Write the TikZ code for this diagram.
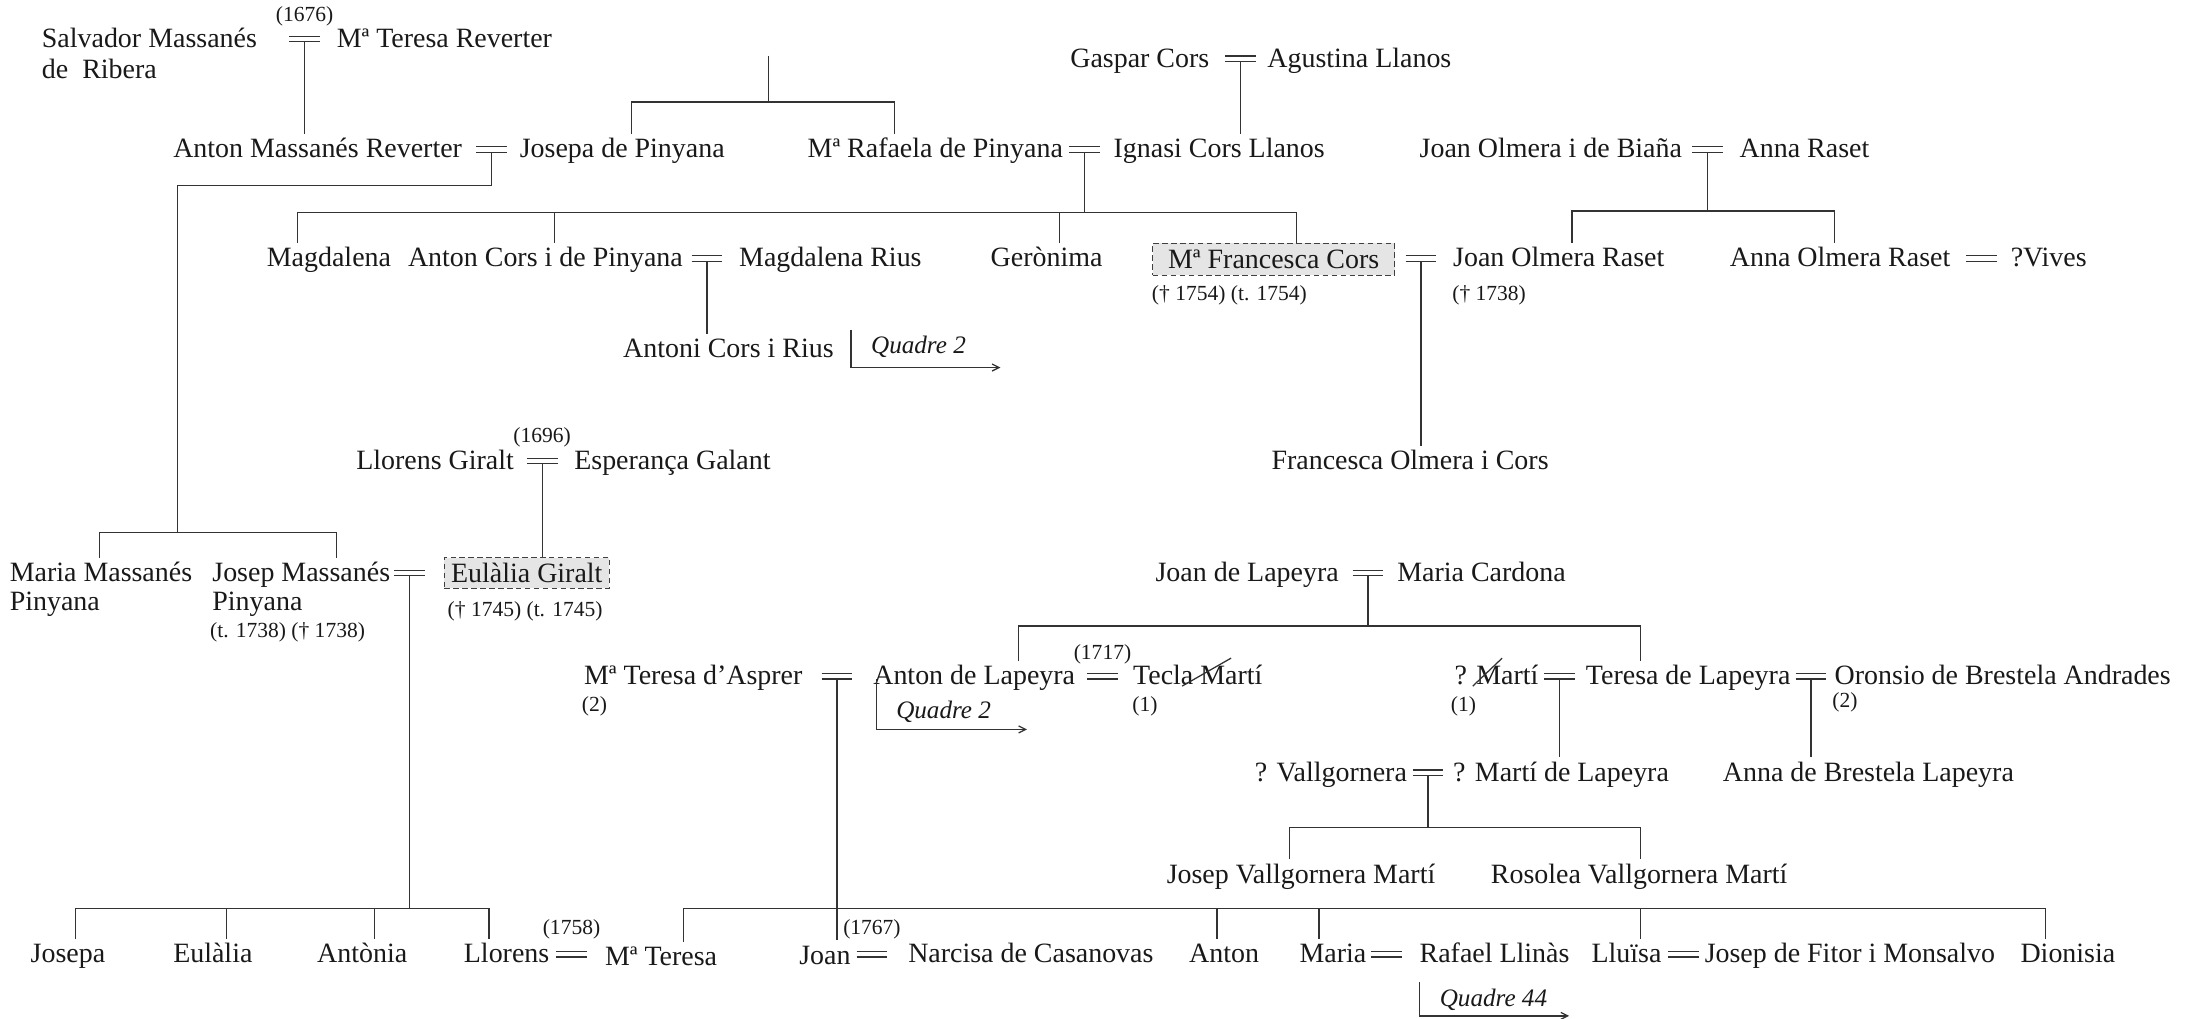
\documentclass[tikz,border=0pt]{standalone}
\usepackage{fontspec}
\setmainfont{Liberation Serif}
\usetikzlibrary{arrows.meta,calc}
\newcommand\mainsz{\fontsize{10}{12}\selectfont}
\newcommand\smallsz{\fontsize{7.7}{9}\selectfont}
\newcommand\quadsz{\fontsize{9}{11}\selectfont\itshape}
\tikzset{
 link/.style={draw=black!80, line width=0.45pt},
 pers/.style={anchor=base west, inner sep=0pt, outer xsep=0pt, outer ysep=1.5pt, text height=7pt, text depth=2pt, font=\mainsz, text=black!90},
 note/.style={anchor=base west, inner sep=0pt, font=\smallsz, text=black!90},
 datum/.style={inner sep=0pt, font=\smallsz, text=black!90},
 hl/.style={draw=black!75, dash pattern=on 2pt off 1.2pt, fill=black!10, inner sep=0pt, font=\mainsz, text=black!90, line width=0.4pt},
 marr/.style={inner sep=0pt, minimum width=11pt, minimum height=1.9pt, outer sep=0pt,
   append after command={(\tikzlastnode.north west) edge[link] (\tikzlastnode.north east)
                         (\tikzlastnode.south west) edge[link] (\tikzlastnode.south east)}},
 ref/.style={link, -{Straight Barb[length=2.5pt,width=2.5pt]}},
 quad/.style={anchor=base west, inner sep=0pt, font=\quadsz, text=black!90},
}
\begin{document}
\begin{tikzpicture}[x=0.5pt,y=-0.5pt]
\fill[white] (0,0) rectangle (1568,729);
\useasboundingbox (0,0) rectangle (1568,729);

% Row A
\node[pers] (salv) at (30,34) {Salvador Massanés};
\node[pers] (salvb) at (30,56) {de~~Ribera};
\node[marr] (m1) at (218,28) {};
\node[datum,yshift=8pt] (d1) at (m1) {(1676)};
\node[pers] (teresaR) at (241,34) {Mª Teresa Reverter};
\node[pers] (gaspar) at (766,48) {Gaspar Cors};
\node[marr] (m4) at (888,42) {};
\node[pers] (agustina) at (907,48) {Agustina Llanos};

% Row B
\node[pers] (antonM) at (124,113) {Anton Massanés Reverter};
\node[marr] (m2) at (352,107) {};
\node[pers] (josepaP) at (372,113) {Josepa de Pinyana};
\node[pers] (rafaela) at (578,113) {Mª Rafaela de Pinyana};
\node[marr] (m3) at (776,107) {};
\node[pers] (ignasi) at (797,113) {Ignasi Cors Llanos};
\node[pers] (joanOB) at (1016,113) {Joan Olmera i de Biaña};
\node[marr] (m5) at (1222,107) {};
\node[pers] (annaR) at (1245,113) {Anna Raset};

% Row C
\node[pers] (magd) at (191,191) {Magdalena};
\node[pers] (antonC) at (292,191) {Anton Cors i de Pinyana};
\node[marr] (m6) at (506,185) {};
\node[pers] (magdR) at (529,191) {Magdalena Rius};
\node[pers] (geron) at (709,191) {Gerònima};
\node[hl, minimum width=86.5pt, minimum height=11.5pt] (francC) at (911.5,185.5) {Mª Francesca Cors};
\node[marr] (m7) at (1017,185) {};
\node[pers] (joanOR) at (1040,191) {Joan Olmera Raset};
\node[pers] (annaOR) at (1238,191) {Anna Olmera Raset};
\node[marr] (m8) at (1418,185) {};
\node[pers] (vives) at (1439,191) {?Vives};
\node[note] (n1) at (824,215) {(† 1754) (t. 1754)};
\node[note] (n2) at (1039,215) {(† 1738)};

% Row D
\node[pers] (antoniCR) at (446,256) {Antoni Cors i Rius};
\coordinate (q1a) at (609,236);
\coordinate (q1b) at (716,263);
\draw[ref] (q1a) |- (q1b);
\node[quad] (q1) at (623,253) {Quadre 2};

% Row E
\node[pers] (llorensG) at (255,336) {Llorens Giralt};
\node[marr] (m9) at (388,330) {};
\node[datum,yshift=8.5pt] (d2) at (m9) {(1696)};
\node[pers] (esper) at (411,336) {Esperança Galant};
\node[pers] (francOC) at (910,336) {Francesca Olmera i Cors};

% Row F
\node[pers] (mariaM) at (7,416) {Maria Massanés};
\node[pers] (mariaMb) at (7,437) {Pinyana};
\node[pers] (josepM) at (152,416) {Josep Massanés};
\node[pers] (josepMb) at (152,437) {Pinyana};
\node[note] (n3) at (150,456) {(t. 1738) († 1738)};
\node[marr] (m10) at (293,410) {};
\node[hl, minimum width=59pt, minimum height=11pt] (eulG) at (377,410) {Eulàlia Giralt};
\node[note] (n4) at (320,441) {(† 1745) (t. 1745)};
\node[pers] (joanL) at (827,416) {Joan de Lapeyra};
\node[marr] (m11) at (979,410) {};
\node[pers] (mariaC) at (1000,416) {Maria Cardona};

% Row G
\node[pers] (teresaA) at (418,490) {Mª Teresa d’Asprer};
\node[note] (n5) at (416,509) {(2)};
\node[marr] (m12) at (599,484) {};
\node[pers] (antonL) at (625,490) {Anton de Lapeyra};
\node[marr] (m13) at (789,484) {};
\node[datum,yshift=8pt] (d3) at (m13) {(1717)};
\node[pers] (tecla) at (811,490) {Tecla Martí};
\node[note] (n6) at (810,509) {(1)};
\coordinate (q2a) at (627,486);
\coordinate (q2b) at (735,522);
\draw[ref] (q2a) |- (q2b);
\node[quad] (q2) at (641,514) {Quadre 2};
\node[pers] (marti) at (1041,490) {? Martí};
\node[note] (n7) at (1038,509) {(1)};
\node[marr] (m14) at (1116,484) {};
\node[pers] (teresaL) at (1135,490) {Teresa de Lapeyra};
\node[marr] (m15) at (1296,484) {};
\node[pers] (oronsio) at (1313,490) {Oronsio de Brestela Andrades};
\node[note] (n8) at (1311,506) {(2)};

% Row H
\node[pers] (vallg) at (898,559) {? Vallgornera};
\node[marr] (m16) at (1022,553) {};
\node[pers] (martiL) at (1040,559) {? Martí de Lapeyra};
\node[pers] (annaB) at (1233,559) {Anna de Brestela Lapeyra};

% Row I
\node[pers] (josepV) at (835,632) {Josep Vallgornera Martí};
\node[pers] (rosolea) at (1067,632) {Rosolea Vallgornera Martí};

% Row J
\node[pers] (josepa) at (22,689) {Josepa};
\node[pers] (eulalia) at (124,689) {Eulàlia};
\node[pers] (antonia) at (227,689) {Antònia};
\node[pers] (llorens) at (332,689) {Llorens};
\node[marr] (m17) at (409,683) {};
\node[datum,yshift=9pt] (d4) at (m17) {(1758)};
\node[pers] (mteresa) at (433,691) {Mª Teresa};
\node[pers] (joan) at (572,690) {Joan};
\node[marr] (m18) at (624,683) {};
\node[datum,yshift=9pt] (d5) at (m18) {(1767)};
\node[pers] (narcisa) at (650,689) {Narcisa de Casanovas};
\node[pers] (anton) at (851,689) {Anton};
\node[pers] (maria) at (930,689) {Maria};
\node[marr] (m19) at (992,683) {};
\node[pers] (rafael) at (1016,689) {Rafael Llinàs};
\node[pers] (lluisa) at (1139,689) {Lluïsa};
\node[marr] (m20) at (1205,683) {};
\node[pers] (fitor) at (1220,689) {Josep de Fitor i Monsalvo};
\node[pers] (dionisia) at (1446,689) {Dionisia};
\coordinate (q3a) at (1016,703);
\coordinate (q3b) at (1123,727);
\draw[ref] (q3a) |- (q3b);
\node[quad] (q3) at (1030,720) {Quadre 44};

% strike-through slashes
\draw[link] ($(tecla.base west)+(35,1)$) -- ($(tecla.base west)+(70,-19)$);
\draw[link] ($(marti.base west)+(13,1)$) -- ($(marti.base west)+(34,-19)$);

% connectors
\draw[link] (m1.south) -- (m1.south |- antonM.north);
\draw[link] (m4.south) -- (m4.south |- ignasi.north);
\coordinate (top1) at (550,40);
\coordinate (b1) at (550,73);
\coordinate (b1l) at (452,73);
\coordinate (b1r) at (640,73);
\draw[link] (top1) -- (b1);
\draw[link] (b1l |- josepaP.north) -- (b1l) -- (b1r) -- (b1r |- rafaela.north);

\coordinate (c2a) at (127,133);
\coordinate (c2b) at (127,381);
\coordinate (bl) at (71,381);
\coordinate (br) at (241,381);
\draw[link] (m2.south) -- (m2.south |- c2a) -- (c2a) -- (c2b);
\draw[link] (bl |- mariaM.north) -- (bl) -- (br) -- (br |- josepM.north);

\coordinate (h3l) at (213,152);
\coordinate (h3r) at (928,152);
\coordinate (h3a) at (397,152);
\coordinate (h3b) at (758,152);
\draw[link] (m3.south) -- (m3.south |- h3l);
\draw[link] (h3l |- magd.north) -- (h3l) -- (h3r) -- (h3r |- francC.north);
\draw[link] (h3a) -- (h3a |- antonC.north);
\draw[link] (h3b) -- (h3b |- geron.north);

\coordinate (h5l) at (1125,151);
\coordinate (h5r) at (1313,151);
\draw[link] (m5.south) -- (m5.south |- h5l);
\draw[link] (h5l |- joanOR.north) -- (h5l) -- (h5r) -- (h5r |- annaOR.north);

\draw[link] (m7.south) -- (m7.south |- francOC.north);
\draw[link] (m6.south) -- (m6.south |- antoniCR.north);
\draw[link] (m9.south) -- (m9.south |- eulG.north);

\coordinate (h10l) at (54,650);
\coordinate (h10r) at (350,650);
\coordinate (h10a) at (162,650);
\coordinate (h10b) at (268,650);
\draw[link] (m10.south) -- (m10.south |- h10l);
\draw[link] (h10l |- josepa.north) -- (h10l) -- (h10r) -- (h10r |- llorens.north);
\draw[link] (h10a) -- (h10a |- eulalia.north);
\draw[link] (h10b) -- (h10b |- antonia.north);

\coordinate (h11l) at (729,448);
\coordinate (h11r) at (1174,448);
\draw[link] (m11.south) -- (m11.south |- h11l);
\draw[link] (h11l |- antonL.north) -- (h11l) -- (h11r) -- (h11r |- teresaL.north);

\draw[link] (m12.south) -- (m12.south |- joan.north);
\coordinate (h12l) at (489,650);
\coordinate (h12r) at (1464,650);
\coordinate (h12a) at (871,650);
\coordinate (h12b) at (944,650);
\coordinate (h12c) at (1174,650);
\draw[link] (h12l |- mteresa.north) -- (h12l) -- (h12r) -- (h12r |- dionisia.north);
\draw[link] (h12a) -- (h12a |- anton.north);
\draw[link] (h12b) -- (h12b |- maria.north);
\draw[link] (h12c) -- (h12c |- lluisa.north);

\draw[link] (m14.south) -- (m14.south |- martiL.north);
\draw[link] (m15.south) -- (m15.south |- annaB.north);

\coordinate (h16l) at (923,592);
\coordinate (h16r) at (1174,592);
\draw[link] (m16.south) -- (m16.south |- h16l);
\draw[link] (h16l |- josepV.north) -- (h16l) -- (h16r) -- (h16r |- rosolea.north);
\end{tikzpicture}
\end{document}
